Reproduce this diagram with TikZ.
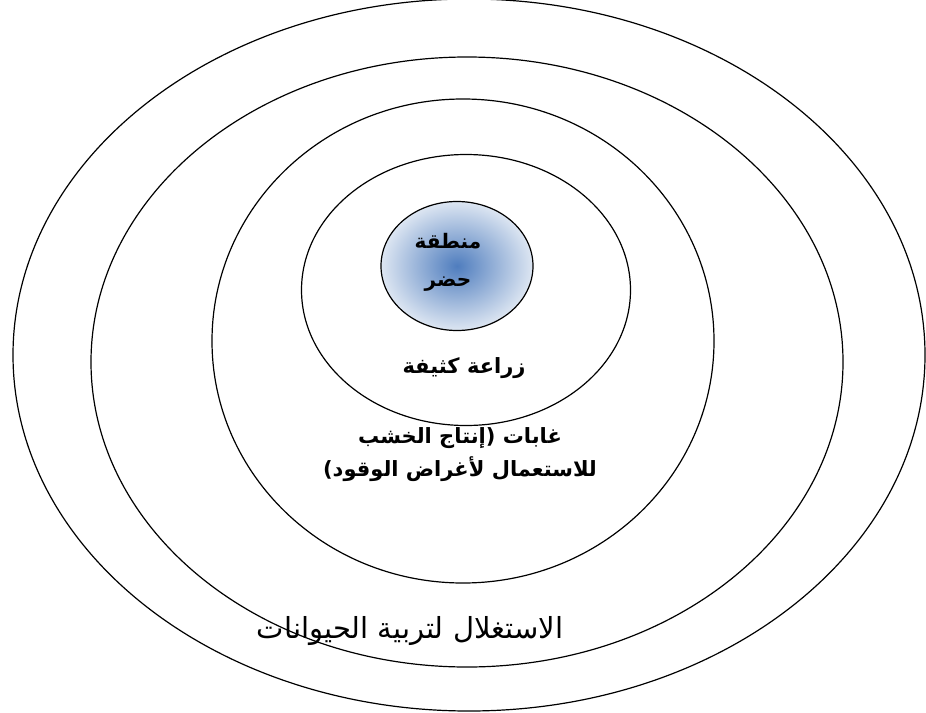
\documentclass[tikz,border=0pt]{standalone}
\usepackage{fontspec}
\usetikzlibrary{shapes.geometric}
\newfontfamily\arabicfont[Script=Arabic]{DejaVu Sans}
\TeXXeTstate=1
\definecolor{cityblue}{HTML}{4F7DBE}
\definecolor{cityhaze}{HTML}{DDE6F2}
\tikzset{
  zone/.style={draw=black, ellipse, line width=1.2pt, inner sep=0pt},
  core/.style={zone, inner color=cityblue, outer color=cityhaze},
  lbl/.style={align=center, font=\arabicfont\bfseries\fontsize{21}{33}\selectfont},
  lbllight/.style={align=center, font=\arabicfont\fontsize{29}{34}\selectfont},
}

\begin{document}
\begin{tikzpicture}[x=1pt, y=-1pt]
    \useasboundingbox (0,0) rectangle (926,712);
    \clip (0,0) rectangle (926,712);
    % rings, outside in
    \node[zone, minimum width=912pt, minimum height=712pt] (herd) at (469,355) {};
    \node[zone, minimum width=752pt, minimum height=610pt] (woods) at (467,362) {};
    \node[zone, minimum width=502pt, minimum height=484pt] (fields) at (463,341) {};
    \node[zone, minimum width=329pt, minimum height=271pt] (farm) at (466,290) {};
    \node[core, minimum width=152pt, minimum height=129pt] (city) at (457,266) {};
    % labels
    \node[lbl, font=\arabicfont\bfseries\fontsize{20}{38}\selectfont] (citytxt) at (448,262) {\beginR منطقة\endR\\\beginR حضر\endR};
    \node[lbl] (farmtxt) at (464,368) {\beginR زراعة كثيفة\endR};
    \node[lbl] (woodtxt) at (460,455) {\beginR غابات (إنتاج الخشب\endR\\\beginR للاستعمال لأغراض الوقود)\endR};
    \node[lbllight] (herdtxt) at (410,631) {\beginR الاستغلال لتربية الحيوانات\endR};
\end{tikzpicture}
\end{document}
